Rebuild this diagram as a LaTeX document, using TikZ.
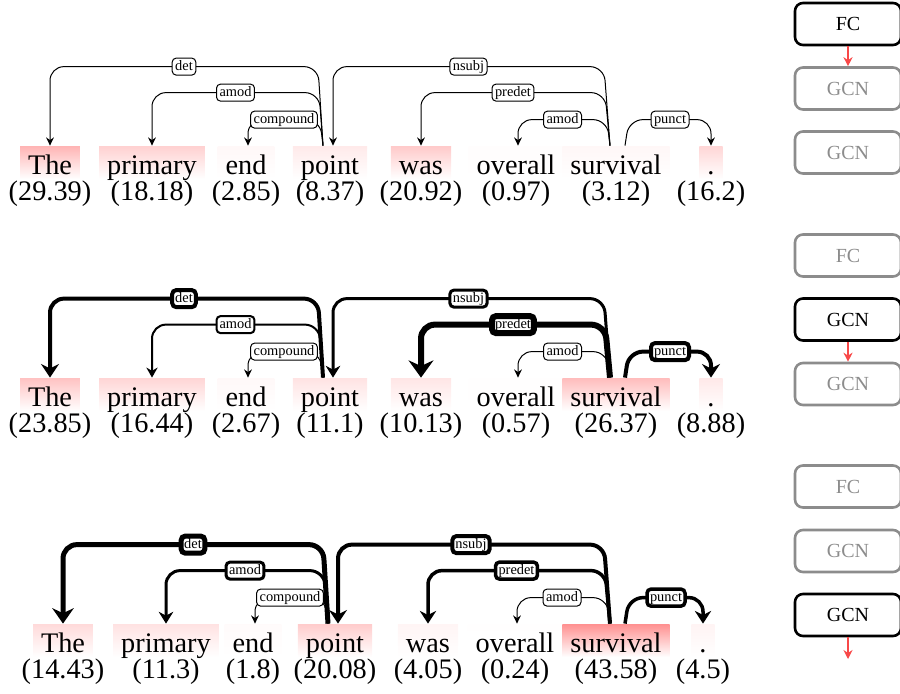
\documentclass[tikz,border=0pt]{standalone}
\usepackage{fontspec}
\setmainfont{Liberation Serif}
\usetikzlibrary{arrows.meta}
\definecolor{arrred}{RGB}{248,72,72}
\definecolor{boxgray}{RGB}{140,140,140}
\begin{document}
\begin{tikzpicture}[x=0.5pt,y=-0.5pt,
 word/.style={anchor=base, inner xsep=4pt, inner ysep=0pt, text height=14pt, text depth=2.5pt, font=\fontsize{14.15}{17}\selectfont},
 num/.style={anchor=base, inner sep=0pt, font=\fontsize{14.15}{17}\selectfont},
 e/.style={draw=black, rounded corners=7pt, -{Stealth[length=3.2pt 1.8, width=2.2pt 3.4]}},
 lab/.style={draw, fill=white, rounded corners=2pt, inner xsep=1.5pt, inner ysep=0.9pt, text height=5.2pt, text depth=1.5pt, font=\fontsize{7.2}{8}\selectfont},
 onbox/.style={draw=black, text=black, line width=1.3pt, rounded corners=4pt, minimum width=53pt, minimum height=21pt, inner sep=0pt, font=\fontsize{10}{12}\selectfont},
 offbox/.style={onbox, draw=boxgray, text=boxgray},
 flow/.style={draw=arrred, line width=1pt, -{Stealth[length=4.5pt, width=4.5pt]}}
]
\useasboundingbox (0,0) rectangle (900,693);

% ---------- top panel ----------
\foreach \wrd/\val/\xx [count=\i] in {The/29.39/50, primary/18.18/152, end/2.85/246, point/8.37/330, was/20.92/421, overall/0.97/516, survival/3.12/616, ./16.2/711}{
  \node[word, top color=red!\val, bottom color=white] (T\i) at (\xx,174) {\wrd};
  \node[num] (TN\i) at (\xx,200) {(\val)};
}
\draw[e, line width=0.5pt] ([xshift=-3.5pt]T4.north) -- ++(-5,-79) -| (T1.north) node[lab,pos=0.25]{det};
\draw[e, line width=0.5pt] ([xshift=-3.5pt]T4.north) -- ++(-4,-53) -| (T2.north) node[lab,pos=0.25]{amod};
\draw[e, line width=0.5pt] ([xshift=-3.5pt]T4.north) -- ++(-3,-26) -| ([xshift=1pt]T3.north) node[lab,pos=0.25]{compound};
\draw[e, line width=0.5pt] ([xshift=-3pt]T7.north) -- ++(-6,-79) -| ([xshift=1.5pt]T4.north) node[lab,pos=0.25]{nsubj};
\draw[e, line width=0.5pt] ([xshift=-3pt]T7.north) -- ++(-5,-53) -| (T5.north) node[lab,pos=0.25]{predet};
\draw[e, line width=0.5pt] ([xshift=-3pt]T7.north) -- ++(-3,-26) -| ([xshift=1pt]T6.north) node[lab,pos=0.25]{amod};
\draw[e, line width=0.5pt] ([xshift=4.5pt]T7.north) -- ++(4,-26) -| (T8.north) node[lab,pos=0.25]{punct};

\node[onbox]  (TFC) at (848,24)    {FC};
\node[offbox] (TG1) at (848,88.5)  {GCN};
\node[offbox] (TG2) at (848,152.5) {GCN};
\draw[flow] (TFC.south) -- (TG1.north);

% ---------- middle panel ----------
\foreach \wrd/\val/\xx [count=\i] in {The/23.85/50, primary/16.44/152, end/2.67/246, point/11.1/330, was/10.13/421, overall/0.57/516, survival/26.37/616, ./8.88/711}{
  \node[word, top color=red!\val, bottom color=white] (M\i) at (\xx,406) {\wrd};
  \node[num] (MN\i) at (\xx,432) {(\val)};
}
\draw[e, line width=2pt]   ([xshift=-3.5pt]M4.north) -- ++(-5,-79) -| (M1.north) node[lab,pos=0.25]{det};
\draw[e, line width=1pt]   ([xshift=-3.5pt]M4.north) -- ++(-4,-53) -| (M2.north) node[lab,pos=0.25]{amod};
\draw[e, line width=0.5pt] ([xshift=-3.5pt]M4.north) -- ++(-3,-26) -| ([xshift=1pt]M3.north) node[lab,pos=0.25]{compound};
\draw[e, line width=1.5pt] ([xshift=-3pt]M7.north) -- ++(-6,-79) -| ([xshift=1.5pt]M4.north) node[lab,pos=0.25]{nsubj};
\draw[e, line width=3pt]   ([xshift=-3pt]M7.north) -- ++(-5,-53) -| (M5.north) node[lab,pos=0.25]{predet};
\draw[e, line width=0.5pt] ([xshift=-3pt]M7.north) -- ++(-3,-26) -| ([xshift=1pt]M6.north) node[lab,pos=0.25]{amod};
\draw[e, line width=2pt]   ([xshift=4.5pt]M7.north) -- ++(4,-26) -| (M8.north) node[lab,pos=0.25]{punct};

\node[offbox] (MFC) at (848,255.5) {FC};
\node[onbox]  (MG1) at (848,319.5) {GCN};
\node[offbox] (MG2) at (848,384)   {GCN};
\draw[flow] (MG1.south) -- (MG2.north);

% ---------- bottom panel ----------
\foreach \wrd/\val/\xx [count=\i] in {The/14.43/63, primary/11.3/166, end/1.8/253, point/20.08/335, was/4.05/428, overall/0.24/515, survival/43.58/616, ./4.5/703}{
  \node[word, top color=red!\val, bottom color=white] (B\i) at (\xx,652) {\wrd};
  \node[num] (BN\i) at (\xx,678) {(\val)};
}
\draw[e, line width=2.5pt]  ([xshift=-3.5pt]B4.north) -- ++(-5,-79) -| (B1.north) node[lab,pos=0.25]{det};
\draw[e, line width=1.5pt]  ([xshift=-3.5pt]B4.north) -- ++(-4,-53) -| (B2.north) node[lab,pos=0.25]{amod};
\draw[e, line width=0.5pt]  ([xshift=-3.5pt]B4.north) -- ++(-3,-26) -| ([xshift=1pt]B3.north) node[lab,pos=0.25]{compound};
\draw[e, line width=2pt]    ([xshift=-3pt]B7.north) -- ++(-6,-79) -| ([xshift=1.5pt]B4.north) node[lab,pos=0.25]{nsubj};
\draw[e, line width=1.75pt] ([xshift=-3pt]B7.north) -- ++(-5,-53) -| (B5.north) node[lab,pos=0.25]{predet};
\draw[e, line width=0.5pt]  ([xshift=-3pt]B7.north) -- ++(-3,-26) -| ([xshift=1pt]B6.north) node[lab,pos=0.25]{amod};
\draw[e, line width=1.75pt] ([xshift=4.5pt]B7.north) -- ++(4,-26) -| (B8.north) node[lab,pos=0.25]{punct};

\node[offbox] (BFC) at (848,486.5) {FC};
\node[offbox] (BG1) at (848,551)   {GCN};
\node[onbox]  (BG2) at (848,615)   {GCN};
\coordinate (Bout) at (848,659);
\draw[flow] (BG2.south) -- (Bout);
\end{tikzpicture}
\end{document}
